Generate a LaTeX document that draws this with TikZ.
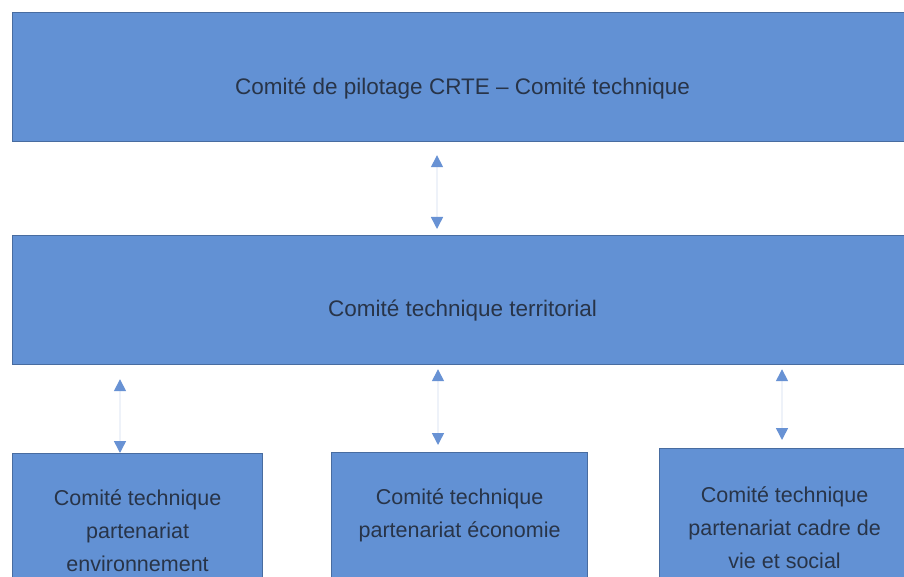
\documentclass[tikz,border=0pt]{standalone}
\usepackage{fontspec}
\setmainfont{Liberation Sans}
\usetikzlibrary{arrows.meta}
\definecolor{boxfill}{RGB}{98,145,212}
\definecolor{boxdraw}{RGB}{72,108,160}
\definecolor{txt}{RGB}{40,52,72}
\definecolor{tipc}{RGB}{104,146,212}
\definecolor{linec}{RGB}{238,242,249}
\begin{document}
\begin{tikzpicture}[x=1pt,y=-1pt,
  box/.style={draw=boxdraw,line width=1.2pt,fill=boxfill,text=txt,align=center,
    font=\fontsize{21.5}{33}\selectfont,inner sep=0pt,anchor=north west},
  conn/.style={draw=linec,line width=1.5pt,
    {Triangle[width=12pt,length=12pt,color=tipc]}-{Triangle[width=12pt,length=12pt,color=tipc]}}]
\fill[white] (0,0) rectangle (904,577);
\useasboundingbox (0,0) rectangle (904,577);
\node[box,minimum width=900pt,minimum height=129pt,font=\fontsize{22.5}{33}\selectfont] (top) at (12,12) {\raisebox{-17pt}[0pt][0pt]{Comité de pilotage CRTE -- Comité technique}};
\node[box,minimum width=900pt,minimum height=129pt,font=\fontsize{22.5}{33}\selectfont] (mid) at (12,235) {\raisebox{-16.5pt}[0pt][0pt]{Comité technique territorial}};
\node[box,minimum width=250pt,minimum height=154pt] (b1) at (12,453) {Comité technique\\partenariat\\environnement};
\node[box,minimum width=256pt,minimum height=125pt] (b2) at (331,452) {Comité technique\\partenariat économie};
\node[box,minimum width=250pt,minimum height=158pt] (b3) at (659,448) {Comité technique\\partenariat cadre de\\vie et social};
\coordinate (x1) at (437,0);
\coordinate (x2) at (120,0);
\coordinate (x3) at (438,0);
\coordinate (x4) at (782,0);
\draw[conn,shorten <=13pt,shorten >=6pt] (top.south -| x1) -- (mid.north -| x1);
\draw[conn,shorten <=14pt,shorten >=0pt] (mid.south -| x2) -- (b1.north -| x2);
\draw[conn,shorten <=4pt,shorten >=7pt] (mid.south -| x3) -- (b2.north -| x3);
\draw[conn,shorten <=4pt,shorten >=8pt] (mid.south -| x4) -- (b3.north -| x4);
\end{tikzpicture}
\end{document}
